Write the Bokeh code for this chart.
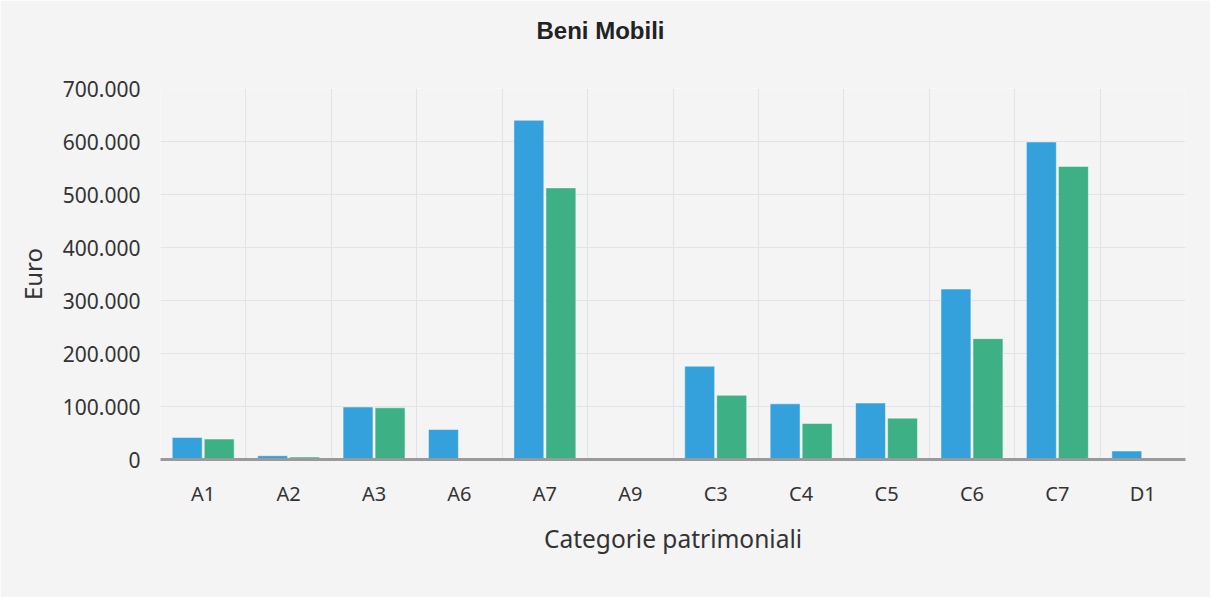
from bokeh.plotting import figure
from bokeh.models import ColumnDataSource, FactorRange, Range1d, FixedTicker, CustomJSTickFormatter, Title
from bokeh.transform import dodge
from bokeh.embed import file_html
from bokeh.resources import INLINE

categories = ["A1", "A2", "A3", "A6", "A7", "A9", "C3", "C4", "C5", "C6", "C7", "D1"]
serie_blu = [41700, 7100, 99000, 56500, 640000, 0, 176000, 105000, 106500, 321500, 599000, 16000]
serie_verde = [38500, 4500, 97500, 0, 512500, 0, 121000, 68000, 78000, 228000, 553000, 0]
y_ticks = [0, 100000, 200000, 300000, 400000, 500000, 600000, 700000]

BG = "#f4f4f4"
BLUE = "#34a0dc"
GREEN = "#3eb085"
GRID = "#e0e4e9"
W, H = 1210, 597
ML, MR, MT, MB = 160, 25, 88, 138

source = ColumnDataSource(data=dict(cat=categories, blu=serie_blu, verde=serie_verde))

p = figure(
    x_range=FactorRange(*categories, range_padding=0, factor_padding=0),
    y_range=Range1d(0, 700000),
    width=W, height=H,
    output_backend="svg", toolbar_location=None,
    min_border_left=ML, min_border_right=MR, min_border_top=MT, min_border_bottom=MB,
    background_fill_color=BG, border_fill_color=BG, outline_line_color=None,
)

# spacer panel next to the frame, then the real title above it
spacer = Title(text=" ", text_font_size="1px", standoff=42)
p.add_layout(spacer, "above")
title = Title(text="Beni Mobili", align="left", offset=376, vertical_align="bottom",
              text_font="Liberation Sans", text_font_size="24px", text_font_style="bold",
              text_color="#222222", standoff=0)
p.add_layout(title, "above")

p.vbar(x=dodge("cat", -0.1875, range=p.x_range), top="blu", width=0.35, bottom=0,
       source=source, fill_color=BLUE, line_color="#ffffff", line_alpha=0.45, line_width=1)
p.vbar(x=dodge("cat", 0.1875, range=p.x_range), top="verde", width=0.35, bottom=0,
       source=source, fill_color=GREEN, line_color="#ffffff", line_alpha=0.45, line_width=1)

# grids
p.ygrid.ticker = FixedTicker(ticks=y_ticks)
p.ygrid.grid_line_color = GRID
p.ygrid.grid_line_width = 1
p.xgrid.ticker = FixedTicker(ticks=list(range(1, len(categories))))
p.xgrid.grid_line_color = GRID
p.xgrid.grid_line_width = 1

# y axis
p.yaxis.ticker = FixedTicker(ticks=y_ticks)
p.yaxis.formatter = CustomJSTickFormatter(code="""
    return Math.round(tick).toString().replace(/\\B(?=(\\d{3})+(?!\\d))/g, '.');
""")
p.yaxis.axis_line_color = None
p.yaxis.major_tick_line_color = None
p.yaxis.minor_tick_line_color = None
p.yaxis.major_tick_out = 0
p.yaxis.major_label_standoff = 20
p.yaxis.major_label_text_font = "Noto Sans"
p.yaxis.major_label_text_font_size = "21px"
p.yaxis.major_label_text_color = "#333333"
p.yaxis.axis_label = "Euro"
p.yaxis.axis_label_text_font = "Noto Sans"
p.yaxis.axis_label_text_font_size = "24px"
p.yaxis.axis_label_text_font_style = "normal"
p.yaxis.axis_label_text_color = "#333333"
p.yaxis.axis_label_standoff = 11

# x axis
p.xaxis.axis_line_color = "#9a9a9a"
p.xaxis.axis_line_width = 3
p.xaxis.major_tick_line_color = None
p.xaxis.minor_tick_line_color = None
p.xaxis.major_tick_out = 0
p.xaxis.major_label_standoff = 20
p.xaxis.major_label_text_font = "Noto Sans"
p.xaxis.major_label_text_font_size = "20px"
p.xaxis.major_label_text_color = "#333333"
p.xaxis.axis_label = "Categorie patrimoniali"
p.xaxis.axis_label_text_font = "Noto Sans"
p.xaxis.axis_label_text_font_size = "24.5px"
p.xaxis.axis_label_text_font_style = "normal"
p.xaxis.axis_label_text_color = "#333333"
p.xaxis.axis_label_standoff = 12

open("out.html", "w").write(file_html(p, INLINE))
